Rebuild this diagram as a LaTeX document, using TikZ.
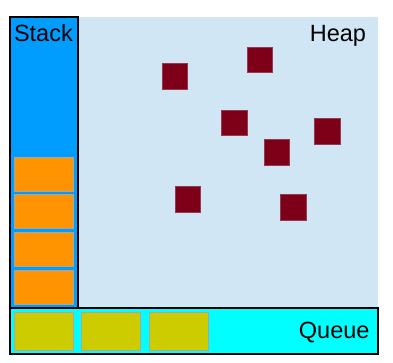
\documentclass[tikz,border=0pt]{standalone}
\usepackage{fontspec}
\setmainfont{Liberation Sans}
\usetikzlibrary{positioning}
\definecolor{stackblue}{RGB}{0,157,255}
\definecolor{heapblue}{RGB}{208,230,245}
\definecolor{queuecyan}{RGB}{0,255,255}
\definecolor{slotorange}{RGB}{255,148,0}
\definecolor{slotyellow}{RGB}{204,204,0}
\definecolor{objred}{RGB}{125,0,24}

\begin{document}
\begin{tikzpicture}[
  x=1pt, y=-1pt,
  every node/.style={inner sep=0pt, outer sep=0pt},
  area/.style  ={anchor=north west},
  frame/.style ={draw=black, line width=1.4pt},
  slot/.style  ={minimum width=59pt, draw=black!35, line width=0.5pt},
  obj/.style   ={fill=objred, draw=objred!75!heapblue, line width=0.4pt, minimum size=25.5pt},
  lbl/.style   ={font=\fontsize{23.5}{26}\selectfont}]

\useasboundingbox (0,0) rectangle (393,362);

% ------------------------------ heap ----------------------------------
\node[area, fill=heapblue, minimum width=300pt, minimum height=291pt] (heap) at (78,17) {};
\node[lbl, anchor=base east] (heaplbl) at (366,41) {Heap};

\node[obj] (obj1) at (174.5,76) {};
\node[obj] (obj2) at (259.5,59.5) {};
\node[obj] (obj3) at (234,122.5) {};
\node[obj] (obj4) at (327,131) {};
\node[obj] (obj5) at (276.5,152) {};
\node[obj] (obj6) at (187.5,199) {};
\node[obj] (obj7) at (293,207) {};

% ------------------------------ stack ---------------------------------
\node[area, frame, fill=stackblue, minimum width=68pt, minimum height=291pt] (stack) at (10,17) {};
\node[lbl, anchor=base west] (stacklbl) at (14,41) {Stack};

\foreach \i in {1,...,4}
  \node[slot, fill=slotorange, minimum height=34pt] (frm\i) at (43.5,136.3+37.7*\i) {};

% ------------------------------ queue ---------------------------------
\node[area, frame, fill=queuecyan, minimum width=368pt, minimum height=46pt] (queue) at (10,308) {};
\node[lbl, anchor=base east] (queuelbl) at (369.5,338) {Queue};

\foreach \i in {1,2,3}
  \node[slot, fill=slotyellow, minimum height=38pt] (task\i) at (43.5+67.6*\i-67.6,331.7) {};

\end{tikzpicture}
\end{document}
